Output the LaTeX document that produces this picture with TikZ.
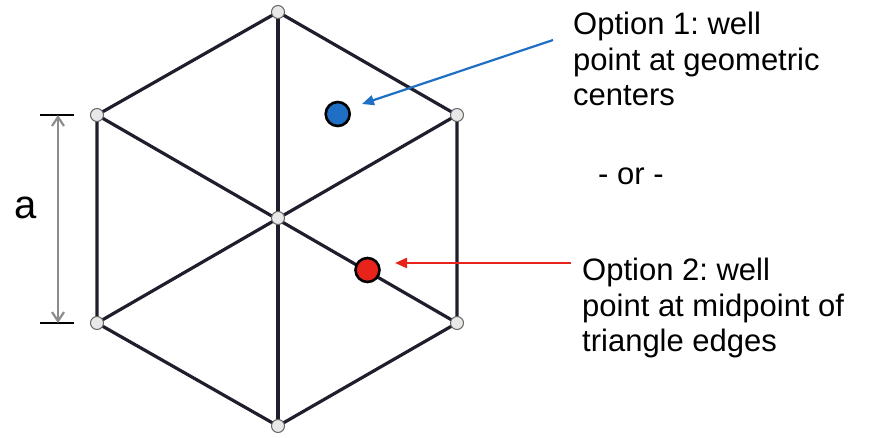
\documentclass[tikz,border=0pt]{standalone}
\usepackage{fontspec}
\setmainfont{Liberation Sans}
\usetikzlibrary{arrows.meta}
\definecolor{edgec}{HTML}{1E1E2C}
\definecolor{bluec}{HTML}{1F6FC4}
\definecolor{redc}{HTML}{E8231C}
\frenchspacing
\begin{document}
\begin{tikzpicture}[x=1pt,y=-1pt,
  edge/.style={draw=edgec,line width=3.2pt},
  vert/.style={circle,draw=gray!80!black,fill=gray!18,line width=1pt,minimum size=13pt,inner sep=0pt},
  well/.style={circle,draw=black,line width=2.6pt,minimum size=24pt,inner sep=0pt},
  lbl/.style={font=\fontsize{31}{35.5}\selectfont,align=left,anchor=north west,inner sep=0pt},
  pointer/.style={line width=2.2pt,-{Triangle[length=12pt,width=10pt]}}]
\useasboundingbox (0,0) rectangle (878,437);
% hexagon coordinates
\coordinate (T) at (278,12);
\coordinate (UL) at (97,115);
\coordinate (UR) at (457,115);
\coordinate (LL) at (97,323);
\coordinate (LR) at (457,323);
\coordinate (B) at (278,426);
\coordinate (C) at (278,218);
% edges
\draw[edge,line join=round] (T) -- (UR) -- (LR) -- (B) -- (LL) -- (UL) -- cycle;
\draw[edge] (T) -- (B);
\draw[edge] (UL) -- (LR);
\draw[edge] (UR) -- (LL);
% vertices
\foreach \p in {T,UL,UR,LL,LR,B,C} \node[vert] (v\p) at (\p) {};
% wells
\node[well,fill=bluec] (w1) at (337.7,114) {};
\node[well,fill=redc] (w2) at (367.5,270) {};
% dimension
\coordinate (d1) at (58,115);
\coordinate (d2) at (58,323);
\draw[black,line width=1.4pt] (40,115) -- (74,115) (40,323) -- (74,323);
\draw[gray!90,line width=2.2pt,{Straight Barb[length=9pt,width=12pt]}-{Straight Barb[length=9pt,width=12pt]}] (d1) -- (d2);
\node[font=\fontsize{40}{42}\selectfont,inner sep=0pt] (alabel) at (26,208) {a};
% labels
\node[lbl] (opt1) at (573,12) {Option 1: well\\point at geometric\\centers};
\node[lbl] (or) at (598,168) {- or -};
\node[lbl] (opt2) at (582,258) {Option 2: well\\point at midpoint of\\triangle edges};
% pointers
\coordinate (a1) at (553,40);
\coordinate (a2) at (571,263);
\draw[pointer,bluec] (a1) -- (362,104);
\draw[pointer,redc] (a2) -- (395,263);
\end{tikzpicture}
\end{document}
